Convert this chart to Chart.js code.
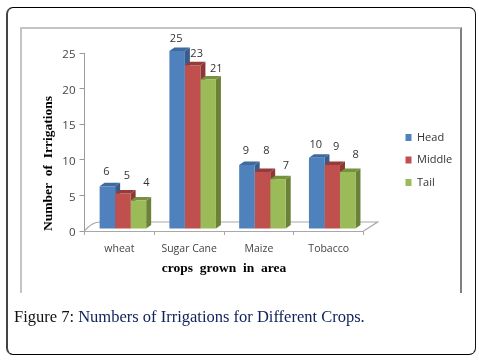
<!DOCTYPE html>
<html><head><meta charset="utf-8">
<style>
html,body{margin:0;padding:0;background:#fff;width:479px;height:360px;overflow:hidden}
#wrap{position:relative;width:479px;height:360px}
canvas{position:absolute;left:0;top:0}
#card{position:absolute;left:6px;top:7px;width:467px;height:346px;border:1px solid #111;border-left:2px solid #444;border-top:1.5px solid #000;border-bottom:1.5px solid #000;border-radius:7px;box-sizing:content-box}
#frame{position:absolute;left:20px;top:27px;width:438px;height:264px;border-top:2px solid #c4c4c4;border-left:2px solid #c4c4c4;border-right:2px solid #808080}
#cap{position:absolute;left:14px;top:307px;font:16.5px "Liberation Serif",serif;color:#10205a;white-space:nowrap}
#cap b{font-weight:normal;color:#111}
</style></head><body>
<div id="wrap">
<div id="card"></div><div id="frame"></div>
<canvas id="c" width="479" height="360"></canvas>
<div id="cap"><b>Figure 7:</b> Numbers of Irrigations for Different Crops.</div>
</div>
<script src="https://cdn.jsdelivr.net/npm/chart.js@4/dist/chart.umd.js"></script>
<script>
const categories = ["wheat","Sugar Cane","Maize","Tobacco"];
const head = [6,25,9,10];
const middle = [5,23,8,9];
const tail = [4,21,7,8];
const yTicks = [0,5,10,15,20,25];

const seriesStyle = [
 {label:"Head",data:head,front:"#4f81bd",top:"#3f6a9e",side:"#385d8a"},
 {label:"Middle",data:middle,front:"#c0504d",top:"#953b39",side:"#8c3836"},
 {label:"Tail",data:tail,front:"#9bbb59",top:"#76923c",side:"#6b8137"}
];
// hand-placed data label lift (px above bar top), per series, per category
const labelLift = [[14,12,14,13],[18,11,21,18],[18,11,13,17]];
const labelNudge = [-1,4,8];
const DX=5, DY=3.5, SHIFT_X=3.5, SHIFT_Y=-2;

const look3d = {
 id:'look3d',
 beforeLayout(chart){
  const l=chart.legend;
  if(l && !l._wrapped){const f=l.fit;l.fit=function(){f.call(this);this.width=115.4;};l._wrapped=true;}
 },
 afterLayout(chart){
  const l=chart.legend;
  l.left=394;l.top=100;l.bottom=220;
 },
 beforeDatasetsDraw(chart){
  const {ctx,chartArea:a}=chart;
  ctx.save();
  ctx.strokeStyle="#a8a8a8";ctx.lineWidth=1.2;
  ctx.beginPath();
  ctx.moveTo(a.left,a.bottom);
  ctx.quadraticCurveTo(a.left+7,a.bottom-9,a.left+16,a.bottom-9);
  ctx.lineTo(a.right+14,a.bottom-9);
  ctx.lineTo(a.right,a.bottom);
  ctx.stroke();
  ctx.restore();
  ctx.save();
  ctx.translate(SHIFT_X,SHIFT_Y);
  chart.data.datasets.forEach((ds,i)=>{
   chart.getDatasetMeta(i).data.forEach(b=>{
    const r=b.x+b.width/2,l=b.x-b.width/2;
    ctx.fillStyle=ds.sideColor;
    ctx.beginPath();ctx.moveTo(r,b.y);ctx.lineTo(r+DX,b.y-DY);ctx.lineTo(r+DX,b.base-DY);ctx.lineTo(r,b.base);ctx.closePath();ctx.fill();
    ctx.fillStyle=ds.topColor;
    ctx.beginPath();ctx.moveTo(l,b.y);ctx.lineTo(l+DX,b.y-DY);ctx.lineTo(r+DX,b.y-DY);ctx.lineTo(r,b.y);ctx.closePath();ctx.fill();
   });
  });
 },
 afterDatasetsDraw(chart){
  const {ctx}=chart;
  ctx.restore();
  ctx.save();
  ctx.font='11px "Open Sans"';ctx.fillStyle="#333";ctx.textAlign="center";ctx.textBaseline="middle";
  chart.data.datasets.forEach((ds,i)=>{
   chart.getDatasetMeta(i).data.forEach((b,j)=>{
    ctx.fillText(String(ds.data[j]),b.x+SHIFT_X+labelNudge[i],b.y+SHIFT_Y-labelLift[i][j]);
   });
  });
  ctx.restore();
 }
};

new Chart(document.getElementById('c'),{
 type:'bar',
 data:{labels:categories,datasets:seriesStyle.map(s=>({label:s.label,data:s.data,backgroundColor:s.front,borderWidth:0,topColor:s.top,sideColor:s.side,categoryPercentage:0.667,barPercentage:1,clip:false}))},
 options:{
  responsive:false,animation:false,
  layout:{padding:{left:0,right:0,top:53,bottom:83}},
  plugins:{
   tooltip:{enabled:false},
   legend:{position:'right',labels:{boxWidth:6,boxHeight:7,padding:11.5,color:"#333",font:{family:'"Open Sans"',size:11}}}
  },
  scales:{
   y:{min:0,max:25,afterBuildTicks(s){s.ticks=yTicks.map(v=>({value:v}));},
    afterFit(s){s.width=84.5;},
    border:{color:"#9a9a9a",width:1},
    grid:{drawOnChartArea:false,tickLength:5,color:"#9a9a9a"},
    ticks:{color:"#444",padding:4,labelOffset:2,font:{family:'"Open Sans"',size:11.5}},
    title:{display:true,text:"Number  of  Irrigations",align:'start',color:"#000",padding:{top:40,bottom:0},font:{family:'"Liberation Serif"',size:13.5,weight:'bold'}}
   },
   x:{afterFit(s){s.height=46;},
    border:{color:"#a8a8a8",width:1},
    grid:{drawOnChartArea:false,tickLength:4,color:"#a8a8a8",offset:true},
    ticks:{color:"#444",padding:8,maxRotation:0,font:{family:'"Open Sans"',size:10.5}},
    title:{display:true,text:"crops  grown  in  area",color:"#000",padding:{top:0,bottom:0},font:{family:'"Liberation Serif"',size:13.5,weight:'bold'}}
   }
  }
 },
 plugins:[look3d]
});
</script>
</body></html>
